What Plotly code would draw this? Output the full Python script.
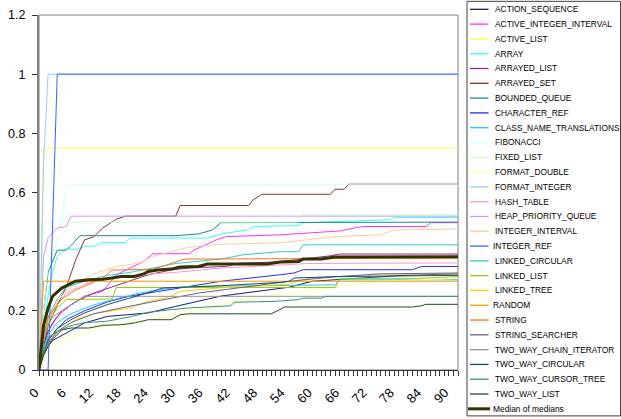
import plotly.graph_objects as go

# ---------------- data ----------------
series_names = [
    "ACTION_SEQUENCE", "ACTIVE_INTEGER_INTERVAL", "ACTIVE_LIST", "ARRAY",
    "ARRAYED_LIST", "ARRAYED_SET", "BOUNDED_QUEUE", "CHARACTER_REF",
    "CLASS_NAME_TRANSLATIONS", "FIBONACCI", "FIXED_LIST", "FORMAT_DOUBLE",
    "FORMAT_INTEGER", "HASH_TABLE", "HEAP_PRIORITY_QUEUE", "INTEGER_INTERVAL",
    "INTEGER_REF", "LINKED_CIRCULAR", "LINKED_LIST", "LINKED_TREE", "RANDOM",
    "STRING", "STRING_SEARCHER", "TWO_WAY_CHAIN_ITERATOR", "TWO_WAY_CIRCULAR",
    "TWO_WAY_CURSOR_TREE", "TWO_WAY_LIST", "Median of medians",
]
series_colors = [
    "#1A1A80", "#FF33FF", "#FFFF33", "#33FFFF", "#8C2A8C", "#903030", "#1A8C8C", "#2A2AFF",
    "#22CCFF", "#CCFFFF", "#CCFFCC", "#FFFF99", "#99CCFF", "#FF99CC", "#CC99FF", "#FFCC99",
    "#3366FF", "#33CCCC", "#99CC00", "#FFCC00", "#FF9900", "#FF7020", "#666699", "#969696",
    "#1A4A7A", "#339966", "#1F4F1F", "#333300",
]

ACTION_SEQUENCE_X = [0, 1, 2, 3, 6, 10, 15, 24, 30, 40, 50, 55, 60, 70, 80, 92]
ACTION_SEQUENCE_Y = [0, 0.05, 0.08, 0.10, 0.125, 0.159, 0.181, 0.193, 0.215, 0.25, 0.27, 0.28, 0.30, 0.31, 0.32, 0.325]

ACTIVE_INTEGER_INTERVAL_X = [0, 1, 2, 4, 7, 10, 14, 17, 23, 25, 33, 34, 39, 41, 53, 66, 71, 85, 86, 92]
ACTIVE_INTEGER_INTERVAL_Y = [0, 0.08, 0.13, 0.18, 0.22, 0.25, 0.266, 0.322, 0.367, 0.393, 0.393, 0.405, 0.44, 0.451, 0.457, 0.47, 0.485, 0.485, 0.498, 0.498]

ACTIVE_LIST_X = [0, 1, 92]
ACTIVE_LIST_Y = [0, 0.75, 0.75]

ARRAY_X = [0, 1, 2, 3, 4, 6, 8, 10, 12, 14, 19, 20, 37, 40, 46, 47, 57, 58, 77, 78, 92]
ARRAY_Y = [0, 0.15, 0.25, 0.33, 0.384, 0.412, 0.406, 0.418, 0.418, 0.431, 0.431, 0.446, 0.446, 0.46, 0.474, 0.485, 0.488, 0.498, 0.508, 0.515, 0.515]

ARRAYED_LIST_X = [0, 1, 2, 3, 5, 8, 12, 16, 20, 24, 29, 33, 41, 44, 52, 58, 64, 66, 92]
ARRAYED_LIST_Y = [0, 0.08, 0.13, 0.16, 0.20, 0.23, 0.26, 0.28, 0.30, 0.322, 0.338, 0.345, 0.35, 0.361, 0.365, 0.375, 0.386, 0.392, 0.392]

ARRAYED_SET_X = [0, 2, 4, 6, 8, 10, 12, 14, 17, 19, 30, 31, 46, 47, 49, 64, 65, 67, 68, 92]
ARRAYED_SET_Y = [0, 0.15, 0.22, 0.28, 0.37, 0.44, 0.45, 0.48, 0.51, 0.52, 0.52, 0.556, 0.556, 0.575, 0.594, 0.594, 0.611, 0.611, 0.628, 0.628]

BOUNDED_QUEUE_X = [0, 1, 2, 3, 4, 6, 7, 9, 30, 35, 38, 40, 92]
BOUNDED_QUEUE_Y = [0, 0.2, 0.33, 0.37, 0.405, 0.405, 0.42, 0.454, 0.454, 0.46, 0.473, 0.498, 0.50]

CHARACTER_REF_X = [0, 1, 2, 4, 6, 10, 15, 20, 26, 32, 40, 53, 56, 58, 82, 84, 92]
CHARACTER_REF_Y = [0, 0.06, 0.10, 0.14, 0.17, 0.20, 0.23, 0.25, 0.265, 0.28, 0.30, 0.322, 0.328, 0.339, 0.339, 0.35, 0.35]

CLASS_NAME_TRANSLATIONS_X = [0, 1, 2, 4, 7, 12, 18, 22, 29, 32, 65, 66, 92]
CLASS_NAME_TRANSLATIONS_Y = [0, 0.07, 0.12, 0.16, 0.19, 0.22, 0.245, 0.26, 0.277, 0.282, 0.288, 0.305, 0.305]

FIBONACCI_X = [0, 1, 5, 6, 92]
FIBONACCI_Y = [0, 0.5, 0.5, 0.626, 0.626]

FIXED_LIST_X = [0, 1, 2, 4, 6, 7, 57, 58, 92]
FIXED_LIST_Y = [0, 0.2, 0.35, 0.44, 0.47, 0.50, 0.50, 0.525, 0.525]

FORMAT_DOUBLE_X = [0, 1, 3, 7, 13, 16, 19, 24, 35, 45, 55, 65, 75, 92]
FORMAT_DOUBLE_Y = [0, 0.04, 0.075, 0.109, 0.142, 0.153, 0.159, 0.17, 0.20, 0.24, 0.26, 0.28, 0.30, 0.31]

FORMAT_INTEGER_X = [0, 1, 2, 92]
FORMAT_INTEGER_Y = [0, 0.7, 1.0, 1.0]

HASH_TABLE_X = [0, 1, 2, 4, 6, 10, 15, 20, 30, 40, 47, 55, 59, 92]
HASH_TABLE_Y = [0, 0.10, 0.17, 0.22, 0.26, 0.29, 0.31, 0.32, 0.33, 0.345, 0.35, 0.356, 0.36, 0.362]

HEAP_PRIORITY_QUEUE_X = [0, 1, 2, 4, 6, 7, 92]
HEAP_PRIORITY_QUEUE_Y = [0, 0.384, 0.447, 0.48, 0.485, 0.52, 0.52]

INTEGER_INTERVAL_X = [0, 1, 2, 4, 6, 9, 13, 17, 22, 25, 29, 33, 40, 53, 65, 75, 78, 92]
INTEGER_INTERVAL_Y = [0, 0.10, 0.17, 0.23, 0.27, 0.30, 0.33, 0.35, 0.361, 0.384, 0.40, 0.415, 0.425, 0.43, 0.451, 0.457, 0.473, 0.477]

INTEGER_REF_X = [0, 2, 4, 92]
INTEGER_REF_Y = [0, 0, 1.0, 1.0]

LINKED_CIRCULAR_X = [0, 1, 2, 4, 6, 10, 15, 20, 25, 30, 40, 45, 53, 57, 58, 92]
LINKED_CIRCULAR_Y = [0, 0.10, 0.18, 0.24, 0.28, 0.30, 0.32, 0.33, 0.345, 0.36, 0.375, 0.39, 0.40, 0.40, 0.423, 0.423]

LINKED_LIST_X = [0, 1, 2, 4, 6, 16, 17, 65, 66, 84, 92]
LINKED_LIST_Y = [0, 0.10, 0.16, 0.21, 0.238, 0.24, 0.279, 0.279, 0.31, 0.31, 0.316]

LINKED_TREE_X = [0, 1, 2, 3, 5, 8, 12, 16, 20, 22, 24, 26, 29, 31, 39, 55, 58, 60, 65, 72, 73, 92]
LINKED_TREE_Y = [0, 0.05, 0.08, 0.11, 0.14, 0.17, 0.19, 0.20, 0.21, 0.221, 0.232, 0.238, 0.249, 0.266, 0.277, 0.29, 0.305, 0.311, 0.316, 0.316, 0.324, 0.325]

RANDOM_X = [0, 1, 92]
RANDOM_Y = [0, 0.30, 0.30]

STRING_X = [0, 1, 2, 3, 5, 8, 11, 14, 16, 25, 32, 92]
STRING_Y = [0, 0.12, 0.18, 0.20, 0.24, 0.27, 0.29, 0.311, 0.338, 0.34, 0.375, 0.378]

STRING_SEARCHER_X = [0, 1, 2, 4, 7, 12, 18, 25, 35, 45, 55, 65, 75, 92]
STRING_SEARCHER_Y = [0, 0.05, 0.09, 0.13, 0.16, 0.19, 0.21, 0.23, 0.26, 0.28, 0.30, 0.315, 0.325, 0.328]

TWO_WAY_CHAIN_ITERATOR_X = [0, 1, 2, 3, 5, 7, 8, 10, 92]
TWO_WAY_CHAIN_ITERATOR_Y = [0, 0.10, 0.15, 0.18, 0.20, 0.22, 0.23, 0.249, 0.249]

TWO_WAY_CIRCULAR_X = [0, 1, 2, 4, 7, 10, 15, 20, 23, 25, 27, 40, 53, 55, 56, 66, 92]
TWO_WAY_CIRCULAR_Y = [0, 0.06, 0.10, 0.14, 0.17, 0.193, 0.221, 0.243, 0.255, 0.266, 0.277, 0.285, 0.296, 0.30, 0.311, 0.316, 0.32]

TWO_WAY_CURSOR_TREE_X = [0, 1, 2, 4, 7, 10, 15, 20, 24, 29, 33, 42, 43, 52, 57, 58, 62, 63, 92]
TWO_WAY_CURSOR_TREE_Y = [0, 0.06, 0.11, 0.13, 0.15, 0.16, 0.165, 0.18, 0.195, 0.204, 0.21, 0.217, 0.229, 0.232, 0.238, 0.243, 0.243, 0.249, 0.249]

TWO_WAY_LIST_X = [0, 1, 2, 3, 5, 7, 11, 14, 18, 21, 24, 29, 31, 33, 51, 53, 54, 82, 84, 85, 92]
TWO_WAY_LIST_Y = [0, 0.05, 0.08, 0.105, 0.135, 0.142, 0.142, 0.151, 0.153, 0.159, 0.17, 0.17, 0.187, 0.19, 0.19, 0.204, 0.213, 0.213, 0.217, 0.222, 0.222]

MEDIAN_X = [0, 1, 2, 3, 5, 8, 11, 14, 16, 18, 21, 23, 24, 26, 29, 31, 35, 37, 50, 53, 57, 58, 62, 65, 92]
MEDIAN_Y = [0, 0.15, 0.21, 0.25, 0.277, 0.30, 0.305, 0.307, 0.311, 0.316, 0.316, 0.325, 0.333, 0.338, 0.341, 0.348, 0.35, 0.358, 0.358, 0.365, 0.367, 0.375, 0.375, 0.382, 0.383]

x_tick_values = list(range(0, 91, 6))
y_tick_values = [0, 0.2, 0.4, 0.6, 0.8, 1.0, 1.2]
y_tick_labels = ["0", "0.2", "0.4", "0.6", "0.8", "1", "1.2"]

series_xy = [
    (ACTION_SEQUENCE_X, ACTION_SEQUENCE_Y), (ACTIVE_INTEGER_INTERVAL_X, ACTIVE_INTEGER_INTERVAL_Y),
    (ACTIVE_LIST_X, ACTIVE_LIST_Y), (ARRAY_X, ARRAY_Y), (ARRAYED_LIST_X, ARRAYED_LIST_Y),
    (ARRAYED_SET_X, ARRAYED_SET_Y), (BOUNDED_QUEUE_X, BOUNDED_QUEUE_Y),
    (CHARACTER_REF_X, CHARACTER_REF_Y), (CLASS_NAME_TRANSLATIONS_X, CLASS_NAME_TRANSLATIONS_Y),
    (FIBONACCI_X, FIBONACCI_Y), (FIXED_LIST_X, FIXED_LIST_Y), (FORMAT_DOUBLE_X, FORMAT_DOUBLE_Y),
    (FORMAT_INTEGER_X, FORMAT_INTEGER_Y), (HASH_TABLE_X, HASH_TABLE_Y),
    (HEAP_PRIORITY_QUEUE_X, HEAP_PRIORITY_QUEUE_Y), (INTEGER_INTERVAL_X, INTEGER_INTERVAL_Y),
    (INTEGER_REF_X, INTEGER_REF_Y), (LINKED_CIRCULAR_X, LINKED_CIRCULAR_Y),
    (LINKED_LIST_X, LINKED_LIST_Y), (LINKED_TREE_X, LINKED_TREE_Y), (RANDOM_X, RANDOM_Y),
    (STRING_X, STRING_Y), (STRING_SEARCHER_X, STRING_SEARCHER_Y),
    (TWO_WAY_CHAIN_ITERATOR_X, TWO_WAY_CHAIN_ITERATOR_Y), (TWO_WAY_CIRCULAR_X, TWO_WAY_CIRCULAR_Y),
    (TWO_WAY_CURSOR_TREE_X, TWO_WAY_CURSOR_TREE_Y), (TWO_WAY_LIST_X, TWO_WAY_LIST_Y),
    (MEDIAN_X, MEDIAN_Y),
]

# ---------------- layout geometry (pixels) ----------------
W, H = 621, 419
PL, PR, PT, PB = 39, 458, 14.7, 370.5   # plot area edges


def px_to_paper_x(px):
    return (px - PL) / (PR - PL)


def px_to_paper_y(py):
    return (PB - py) / (PB - PT)


fig = go.Figure()
for i, (name, (xs, ys)) in enumerate(zip(series_names, series_xy)):
    is_median = name == "Median of medians"
    fig.add_trace(go.Scatter(
        x=xs, y=ys, mode="lines", name=name,
        line=dict(color=series_colors[i], width=3 if is_median else 1),
        showlegend=False, hoverinfo="name+x+y",
    ))

shapes = []
annotations = []
# plot-area frame
shapes.append(dict(type="rect", xref="paper", yref="paper", x0=0, x1=1, y0=0, y1=1,
                   line=dict(color="#808080", width=1), layer="below"))
# legend box
shapes.append(dict(type="rect", xref="paper", yref="paper",
                   x0=px_to_paper_x(467), x1=px_to_paper_x(620.5),
                   y0=px_to_paper_y(416.5), y1=px_to_paper_y(1),
                   line=dict(color="#404040", width=1), fillcolor="white"))
# manual legend (Excel-style compact spacing)
tight = {"INTEGER_REF", "RANDOM", "Median of medians"}
for i, name in enumerate(series_names):
    py = 9 + 14.83 * i
    is_median = name == "Median of medians"
    shapes.append(dict(type="line", xref="paper", yref="paper",
                       x0=px_to_paper_x(468 if is_median else 470),
                       x1=px_to_paper_x(490 if is_median else 488.5),
                       y0=px_to_paper_y(py), y1=px_to_paper_y(py),
                       line=dict(color=series_colors[i], width=3 if is_median else 1.3)))
    annotations.append(dict(xref="paper", yref="paper",
                            x=px_to_paper_x(490.5 if name in tight else 493),
                            y=px_to_paper_y(py), text=name, showarrow=False,
                            xanchor="left", yanchor="middle",
                            font=dict(size=8.4, color="#000000",
                                      family="Liberation Sans, Arial, sans-serif")))

fig.update_layout(
    width=W, height=H,
    margin=dict(l=PL, r=W - PR, t=PT, b=H - PB, pad=0, autoexpand=False),
    paper_bgcolor="white", plot_bgcolor="white",
    showlegend=False,
    shapes=shapes, annotations=annotations,
    font=dict(family="Liberation Sans, Arial, sans-serif", color="#000000"),
    xaxis=dict(
        range=[0, 92], tickmode="array", tickvals=x_tick_values,
        ticktext=[str(v) for v in x_tick_values], tickangle=-45,
        tickfont=dict(size=13), ticks="outside", ticklen=5, tickcolor="#333333",
        ticklabelstandoff=4, ticklabelshift=-4,
        minor=dict(dtick=1, tick0=0, ticks="outside", ticklen=5, tickcolor="#333333", showgrid=False),
        showgrid=False, zeroline=False, showline=True, linecolor="#333333", linewidth=1,
        fixedrange=True, automargin=False,
    ),
    yaxis=dict(
        range=[0, 1.2], tickmode="array", tickvals=y_tick_values, ticktext=y_tick_labels,
        tickfont=dict(size=12.5), ticks="outside", ticklen=5, tickcolor="#333333",
        ticklabelstandoff=4,
        showgrid=False, zeroline=False, showline=True, linecolor="#808080", linewidth=2,
        fixedrange=True, automargin=False,
    ),
)

fig.write_html("out.html", config={"displayModeBar": False},
               post_script="document.body.style.margin='0';document.body.style.padding='0';")
